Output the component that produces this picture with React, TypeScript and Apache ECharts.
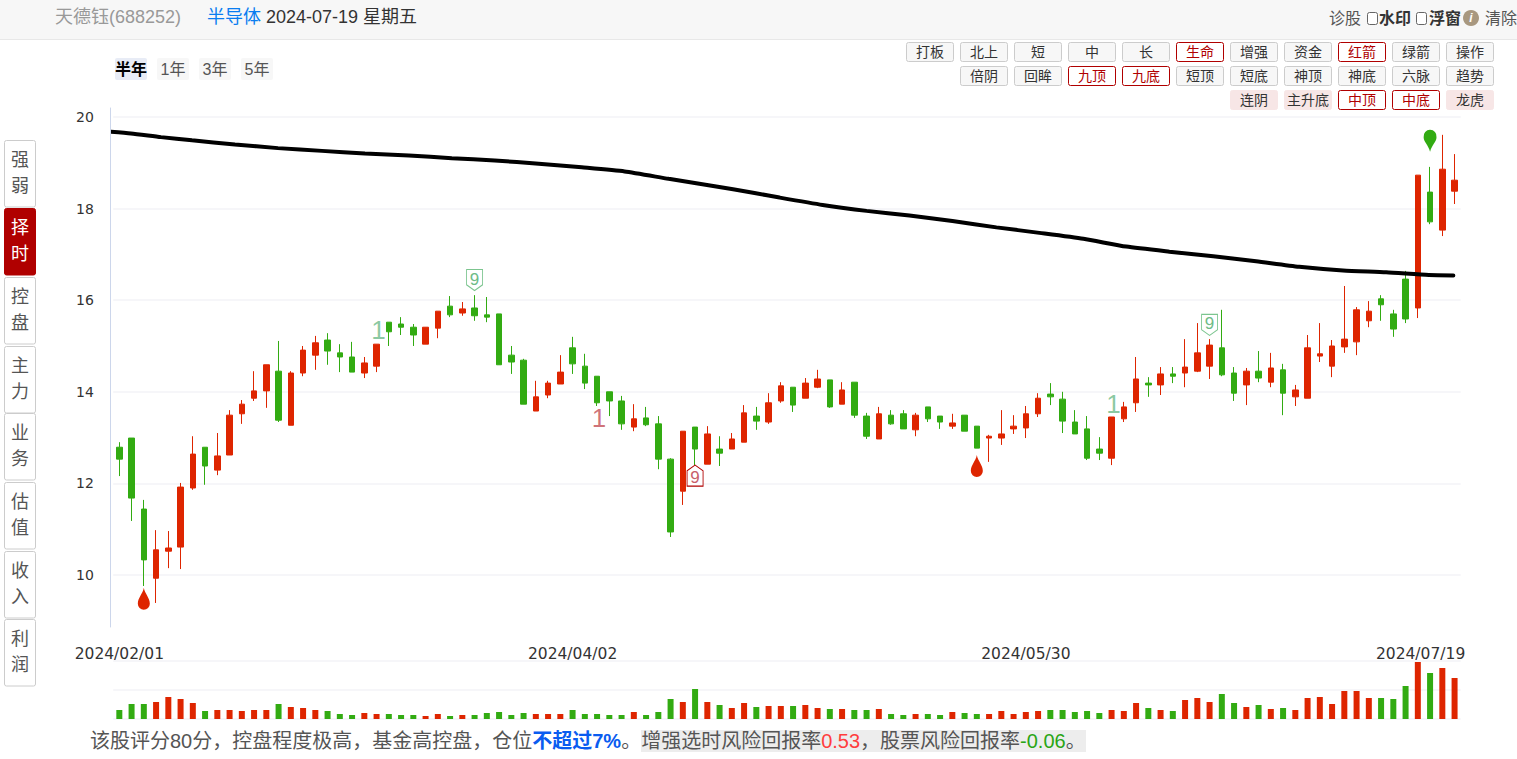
import React, { useEffect, useRef } from "react";
import * as echarts from "echarts";

const dates = [
  "2024/02/01","2024/02/02","2024/02/05","2024/02/06","2024/02/07","2024/02/08","2024/02/19","2024/02/20","2024/02/21","2024/02/22",
  "2024/02/23","2024/02/26","2024/02/27","2024/02/28","2024/02/29","2024/03/01","2024/03/04","2024/03/05","2024/03/06","2024/03/07",
  "2024/03/08","2024/03/11","2024/03/12","2024/03/13","2024/03/14","2024/03/15","2024/03/18","2024/03/19","2024/03/20","2024/03/21",
  "2024/03/22","2024/03/25","2024/03/26","2024/03/27","2024/03/28","2024/03/29","2024/04/01","2024/04/02","2024/04/03","2024/04/08",
  "2024/04/09","2024/04/10","2024/04/11","2024/04/12","2024/04/15","2024/04/16","2024/04/17","2024/04/18","2024/04/19","2024/04/22",
  "2024/04/23","2024/04/24","2024/04/25","2024/04/26","2024/04/29","2024/04/30","2024/05/06","2024/05/07","2024/05/08","2024/05/09",
  "2024/05/10","2024/05/13","2024/05/14","2024/05/15","2024/05/16","2024/05/17","2024/05/20","2024/05/21","2024/05/22","2024/05/23",
  "2024/05/24","2024/05/27","2024/05/28","2024/05/29","2024/05/30","2024/05/31","2024/06/03","2024/06/04","2024/06/05","2024/06/06",
  "2024/06/07","2024/06/11","2024/06/12","2024/06/13","2024/06/14","2024/06/17","2024/06/18","2024/06/19","2024/06/20","2024/06/21",
  "2024/06/24","2024/06/25","2024/06/26","2024/06/27","2024/06/28","2024/07/01","2024/07/02","2024/07/03","2024/07/04","2024/07/05",
  "2024/07/08","2024/07/09","2024/07/10","2024/07/11","2024/07/12","2024/07/15","2024/07/16","2024/07/17","2024/07/18","2024/07/19",
];

const opens = [
  12.79,12.99,11.44,9.93,10.52,10.61,11.90,12.79,12.29,12.62,13.52,13.86,14.02,14.45,13.27,14.41,14.80,15.13,14.85,14.76,
  14.41,14.56,15.52,15.48,15.41,15.04,15.39,15.87,15.72,15.83,15.68,15.70,14.80,14.69,13.58,13.93,14.17,14.96,14.56,14.34,
  14.00,13.80,13.23,13.43,13.30,12.53,11.83,13.23,12.42,12.75,12.75,12.90,13.47,13.34,13.80,14.10,13.86,14.10,14.26,13.73,
  14.21,13.47,12.97,13.49,13.52,13.17,13.67,13.47,13.25,13.49,13.25,12.99,12.99,13.19,13.21,13.52,13.95,13.84,13.34,13.19,
  12.75,12.55,13.41,13.76,14.19,14.15,14.39,14.41,14.45,14.56,14.96,14.41,14.15,14.45,14.21,14.48,13.89,13.86,14.78,14.56,
  14.98,15.09,15.55,16.03,15.70,16.46,15.83,18.36,17.53,18.38,
];
const closes = [
  12.53,11.68,10.33,10.55,10.59,11.92,12.64,12.38,12.60,13.49,13.73,14.02,14.59,13.38,14.41,14.91,15.07,14.89,14.76,14.43,
  14.63,15.04,15.31,15.41,15.24,15.41,15.76,15.68,15.81,15.66,15.63,14.59,14.65,13.73,13.89,14.19,14.43,14.61,14.19,13.76,
  13.80,13.30,13.41,13.28,12.53,10.94,13.14,12.75,13.08,12.66,12.97,13.54,13.36,13.76,14.13,13.71,14.19,14.28,13.67,14.04,
  13.49,13.03,13.52,13.30,13.19,13.49,13.41,13.34,13.32,13.14,12.77,13.03,13.08,13.25,13.52,13.86,13.89,13.36,13.08,12.55,
  12.66,13.45,13.67,14.28,14.15,14.39,14.34,14.54,14.85,15.02,14.37,13.97,14.45,14.30,14.52,13.97,14.04,14.96,14.83,15.00,
  15.15,15.79,15.76,15.90,15.37,15.59,18.73,17.71,18.86,18.62,
];
const lows = [
  12.16,11.18,9.76,9.39,10.15,10.13,11.86,11.97,12.18,12.62,13.30,13.80,13.65,13.34,13.27,14.34,14.48,14.59,14.43,14.43,
  14.30,14.43,15.00,15.24,15.00,15.04,15.17,15.63,15.66,15.55,15.52,14.59,14.39,13.73,13.58,13.86,14.17,14.39,14.06,13.69,
  13.47,13.17,13.14,13.25,12.31,10.83,11.53,12.40,12.42,12.38,12.75,12.90,13.17,13.30,13.76,13.56,13.86,14.08,13.65,13.73,
  13.43,12.97,12.97,13.28,13.19,13.03,13.34,13.19,13.19,13.14,12.77,12.47,12.84,13.08,12.99,13.45,13.71,13.10,13.08,12.51,
  12.51,12.40,13.34,13.56,13.89,13.93,14.19,14.10,14.43,14.28,14.34,13.80,13.71,14.21,14.10,13.49,13.69,13.86,14.65,14.32,
  14.85,14.80,15.41,15.55,15.20,15.50,15.61,17.66,17.40,18.10,
];
const highs = [
  12.90,12.99,11.64,10.98,10.96,12.01,13.03,12.79,13.10,13.60,13.82,14.45,14.59,15.11,14.45,15.00,15.22,15.28,15.04,15.09,
  14.76,15.04,15.52,15.63,15.48,15.41,15.76,16.09,15.96,16.11,16.07,15.70,15.00,14.72,14.24,14.24,14.80,15.20,14.83,14.34,
  14.00,13.91,13.73,13.67,13.47,12.55,13.14,13.23,13.25,13.03,13.10,13.71,13.67,13.97,14.21,14.10,14.30,14.48,14.26,14.21,
  14.21,13.54,13.67,13.60,13.60,13.54,13.67,13.47,13.52,13.49,13.25,13.06,13.60,13.49,13.69,13.97,14.19,14.00,13.60,13.47,
  13.01,13.45,13.78,14.76,14.32,14.54,14.54,15.15,15.50,15.15,15.79,14.54,14.52,14.89,14.85,14.61,14.15,15.24,15.50,15.13,
  16.31,15.85,15.98,16.11,15.79,16.64,18.73,18.91,19.61,19.19,
];
const volumes = [
  9,15,15,17,22,20,16,8,9,9,8,9,9,15,12,11,9,8,5,4,
  6,5,5,4,4,3,5,3,4,4,6,7,4,6,5,5,5,9,5,5,
  4,4,7,4,7,20,17,30,17,14,11,16,12,13,13,13,14,11,10,10,
  9,9,10,5,4,5,5,4,7,6,5,5,8,5,7,8,9,9,7,8,
  6,9,8,16,11,9,8,19,21,17,25,16,12,14,10,11,9,21,22,15,
  28,28,21,21,20,33,57,46,51,41,
];

// the long moving average at these candle positions
const maPositions = [
  -0.84,0.95,3.4,5.93,9.44,12.95,16.54,20.05,23.64,27.14,30.65,34.24,37.75,41.25,44.84,48.35,51.85,
  53.9,57.41,61,64.5,68.01,71.6,75.11,78.7,82.2,85.72,89.3,92.8,96.32,99.9,103.42,106.9,108.9,
];
const maValues = [
  19.68,19.64,19.56,19.49,19.40,19.32,19.26,19.20,19.16,19.10,19.05,18.98,18.90,18.81,18.65,18.50,18.34,
  18.24,18.08,17.95,17.85,17.73,17.59,17.47,17.34,17.17,17.06,16.96,16.85,16.73,16.65,16.61,16.55,16.54,
];

const priceTicks = [10, 12, 14, 16, 18, 20];
const labelledDates = [0, 37, 74, 109];

const redDrops = [[2, 9.48], [70, 12.38]];
const greenPins = [[107, 19.48]];
const greenNines = [[29, 16.44], [89, 15.46]];
const redNines = [[47, 12.17]];
const greenOnes = [[21, 15.36], [81, 13.73]];
const redOnes = [[39, 13.43]];

const row1Buttons = ["打板","北上","短","中","长","生命","增强","资金","红箭","绿箭","操作"];
const row2Buttons = ["倍阴","回眸","九顶","九底","短顶","短底","神顶","神底","六脉","趋势"];
const row3Buttons = ["连阴","主升底","中顶","中底","龙虎"];
const activeButtons = ["生命","红箭","九顶","九底","中顶","中底"];
const pinkButtons = ["连阴","主升底","龙虎"];
const periodTabs = ["半年","1年","3年","5年"];
const sideTabs = ["强弱","择时","控盘","主力","业务","估值","收入","利润"];
const sideTabTops = [140, 208, 277, 346, 413, 482, 551, 619];

const RED = "#de2500";
const GREEN = "#32ab12";
const DARK_RED = "#b00000";
const FONT = "'Liberation Sans','Noto Sans CJK SC',sans-serif";
const AXIS_FONT = "'DejaVu Sans',sans-serif";

const DROP = "path://M6 0C7 6 12 10 12 16A6 6 0 0 1 0 16C0 10 5 6 6 0Z";
const PIN = "path://M7 0A7 7 0 0 1 14 8C14 13 9 16 7 24C5 16 0 13 0 8A7 7 0 0 1 7 0Z";
const SHIELD = "path://M0 0H16V16L8 22L0 16Z";
const HOUSE = "path://M0 6L8 0L16 6V22H0Z";

function label(text: string, x: number, y: number, fontSize: number, fill: string, extra: any = {}) {
  return {
    type: "text",
    x,
    y,
    silent: true,
    style: { text, fontSize, fill, fontFamily: FONT, verticalAlign: "middle", align: "left", ...extra },
  };
}

function button(text: string, x: number, y: number) {
  const active = activeButtons.includes(text);
  const pink = pinkButtons.includes(text);
  return [
    {
      type: "rect",
      silent: true,
      shape: { x: x + 0.5, y: y + 0.5, width: 47, height: 19, r: 2 },
      style: {
        fill: active ? "#ffffff" : pink ? "#f7e6e6" : "#f7f7f7",
        stroke: active ? DARK_RED : pink ? "#f7e6e6" : "#cccccc",
        lineWidth: 1,
      },
    },
    label(text, x + 24, y + 10, 14, active ? DARK_RED : "#333333", { align: "center" }),
  ];
}

function buildGraphics() {
  const out: any[] = [];
  out.push({ type: "rect", silent: true, shape: { x: -2, y: -2, width: 1521, height: 41.5 }, style: { fill: "#f7f7f7", stroke: "#e8e8e8", lineWidth: 1 } });
  out.push(label("天德钰(688252)", 55, 17, 18, "#999999"));
  out.push(label("半导体", 207, 17, 18, "#0a7df0"));
  out.push(label("2024-07-19 星期五", 266, 17, 18, "#333333"));
  out.push(label("诊股", 1329, 18, 16, "#555555"));
  [1367, 1416].forEach((x) =>
    out.push({ type: "rect", silent: true, shape: { x: x + 0.5, y: 12.5, width: 10, height: 12, r: 2 }, style: { fill: "#ffffff", stroke: "#666666", lineWidth: 1 } })
  );
  out.push(label("水印", 1379, 18, 16, "#333333", { fontWeight: "bold" }));
  out.push(label("浮窗", 1429, 18, 16, "#333333", { fontWeight: "bold" }));
  out.push({ type: "circle", silent: true, shape: { cx: 1471, cy: 18, r: 8 }, style: { fill: "#a89880" } });
  out.push(label("i", 1471, 18, 12, "#ffffff", { align: "center", fontStyle: "italic", fontWeight: "bold" }));
  out.push(label("清除", 1485, 18, 16, "#555555"));

  row1Buttons.forEach((t, i) => out.push(...button(t, 906 + i * 54, 42)));
  row2Buttons.forEach((t, i) => out.push(...button(t, 960 + i * 54, 66)));
  row3Buttons.forEach((t, i) => out.push(...button(t, 1230 + i * 54, 90)));

  periodTabs.forEach((t, i) => {
    const x = 115 + i * 42;
    out.push({ type: "rect", silent: true, shape: { x, y: 58, width: 32, height: 22, r: 2 }, style: { fill: i === 0 ? "#e8ecf6" : "#f7f7f7" } });
    out.push(label(t, x + 16, 69, 16, i === 0 ? "#000000" : "#555555", { align: "center", fontWeight: i === 0 ? "bold" : "normal" }));
  });

  sideTabs.forEach((t, i) => {
    const top = sideTabTops[i];
    const on = i === 1;
    out.push({
      type: "rect",
      silent: true,
      shape: { x: 4.5, y: top + 0.5, width: 31, height: 66.5, r: 2 },
      style: { fill: on ? DARK_RED : "#ffffff", stroke: on ? DARK_RED : "#cccccc", lineWidth: 1 },
    });
    out.push(label(t[0], 20, top + 20, 18, on ? "#ffffff" : "#555555", { align: "center" }));
    out.push(label(t[1], 20, top + 46, 18, on ? "#ffffff" : "#555555", { align: "center" }));
  });

  out.push({ type: "rect", silent: true, shape: { x: 641, y: 730, width: 445, height: 22 }, style: { fill: "#ededed" } });
  const base = { fontSize: 20, fontFamily: FONT, fill: "#555555" };
  out.push({
    type: "text",
    x: 90,
    y: 741,
    silent: true,
    style: {
      text:
        "{b|该股评分80分，控盘程度极高，基金高控盘，仓位}{blue|不超过7%}{b|。增强选时风险回报率}{red|0.53}{b|，股票风险回报率}{green|-0.06}{b|。}",
      verticalAlign: "middle",
      fontSize: 20,
      fontFamily: FONT,
      rich: {
        b: base,
        blue: { ...base, fill: "#0a5cf0", fontWeight: "bold" },
        red: { ...base, fill: "#ff3d3d" },
        green: { ...base, fill: "#2aa515" },
      },
    },
  });
  return out;
}

const GRID_LEFT = 113.2;
const GRID_WIDTH = 1347.5;

export default function App() {
  const ref = useRef<HTMLDivElement>(null);
  useEffect(() => {
    const chart = echarts.init(ref.current!, undefined, { renderer: "svg" });
    const candleData = opens.map((o, i) => [o, closes[i], lows[i], highs[i]]);
    const volumeData = volumes.map((v, i) => ({
      value: v,
      itemStyle: { color: closes[i] >= opens[i] ? RED : GREEN },
    }));
    const splitLine = { show: true, lineStyle: { color: "#f3f3f7", width: 1.5 } };
    chart.setOption({
      animation: false,
      backgroundColor: "#ffffff",
      graphic: buildGraphics(),
      grid: [
        { left: GRID_LEFT, width: GRID_WIDTH, top: 108, height: 519 },
        { left: GRID_LEFT, width: GRID_WIDTH, top: 661, height: 58 },
      ],
      xAxis: [
        {
          type: "category",
          gridIndex: 0,
          data: dates,
          axisLine: { show: false },
          axisTick: { show: false },
          axisLabel: {
            interval: (i: number) => labelledDates.includes(i),
            margin: 19,
            fontSize: 15.5,
            color: "#333333",
            fontFamily: AXIS_FONT,
            hideOverlap: false,
            formatter: (v: string, i: number) => (i === 109 ? `{last|${v}}` : v),
            rich: {
              last: { fontSize: 15.5, color: "#333333", fontFamily: AXIS_FONT, padding: [0, 68, 0, 0] },
            },
          },
        },
        {
          type: "category",
          gridIndex: 1,
          data: dates,
          axisLine: { show: false },
          axisTick: { show: false },
          axisLabel: { show: false },
        },
        { type: "value", gridIndex: 0, min: -0.5, max: 109.5, show: false, splitLine: { show: false } },
      ],
      yAxis: [
        {
          type: "value",
          gridIndex: 0,
          min: 8.865,
          max: 20.196,
          offset: 3.4,
          axisLine: { show: true, onZero: false, lineStyle: { color: "#ccd6eb", width: 1 } },
          axisTick: { show: false, customValues: priceTicks },
          axisLabel: { customValues: priceTicks, margin: 16, fontSize: 14, color: "#333333", fontFamily: AXIS_FONT, padding: [0, 0, 3, 0] },
          splitLine,
        },
        {
          type: "value",
          gridIndex: 1,
          min: 0,
          max: 58,
          interval: 29,
          axisLine: { show: false },
          axisTick: { show: false },
          axisLabel: { show: false },
          splitLine,
        },
      ],
      series: [
        {
          name: "均线",
          type: "line",
          xAxisIndex: 2,
          yAxisIndex: 0,
          clip: false,
          silent: true,
          symbol: "none",
          smooth: 0.2,
          data: maPositions.map((p, i) => [p, maValues[i]]),
          lineStyle: { color: "#000000", width: 4, cap: "round" },
        },
        {
          name: "K线",
          type: "candlestick",
          xAxisIndex: 0,
          yAxisIndex: 0,
          barWidth: 6,
          silent: true,
          data: candleData,
          itemStyle: { color: RED, color0: GREEN, borderColor: RED, borderColor0: GREEN, borderWidth: 1 },
        },
        {
          name: "成交量",
          type: "bar",
          xAxisIndex: 1,
          yAxisIndex: 1,
          barWidth: 6,
          silent: true,
          data: volumeData,
        },
        {
          name: "红滴",
          type: "scatter",
          xAxisIndex: 0,
          yAxisIndex: 0,
          silent: true,
          symbol: DROP,
          symbolSize: [12, 22],
          itemStyle: { color: RED, opacity: 1 },
          data: redDrops,
        },
        {
          name: "绿针",
          type: "scatter",
          xAxisIndex: 0,
          yAxisIndex: 0,
          silent: true,
          symbol: PIN,
          symbolSize: [13, 22],
          itemStyle: { color: GREEN, opacity: 1 },
          data: greenPins,
        },
        {
          name: "绿九",
          type: "scatter",
          xAxisIndex: 0,
          yAxisIndex: 0,
          silent: true,
          symbol: SHIELD,
          symbolSize: [16, 21],
          itemStyle: { color: "#ffffff", borderColor: "#7cc58f", borderWidth: 1, opacity: 1 },
          label: { show: true, position: "inside", formatter: "9", fontSize: 17, color: "#6fbb87", fontFamily: FONT, offset: [0, -1] },
          data: greenNines,
        },
        {
          name: "红九",
          type: "scatter",
          xAxisIndex: 0,
          yAxisIndex: 0,
          silent: true,
          symbol: HOUSE,
          symbolSize: [16, 21],
          itemStyle: { color: "#ffffff", borderColor: DARK_RED, borderWidth: 1, opacity: 1 },
          label: { show: true, position: "inside", formatter: "9", fontSize: 17, color: "#c8606a", fontFamily: FONT, offset: [0, 2] },
          data: redNines,
        },
        {
          name: "绿一",
          type: "scatter",
          xAxisIndex: 0,
          yAxisIndex: 0,
          silent: true,
          symbolSize: 1,
          symbolOffset: [2, 0],
          itemStyle: { color: "rgba(0,0,0,0)" },
          label: { show: true, position: "inside", formatter: "1", fontSize: 26, color: "rgba(60,165,100,0.75)", fontFamily: FONT },
          data: greenOnes,
        },
        {
          name: "红一",
          type: "scatter",
          xAxisIndex: 0,
          yAxisIndex: 0,
          silent: true,
          symbolSize: 1,
          symbolOffset: [2, 0],
          itemStyle: { color: "rgba(0,0,0,0)" },
          label: { show: true, position: "inside", formatter: "1", fontSize: 26, color: "rgba(176,20,30,0.75)", fontFamily: FONT },
          data: redOnes,
        },
      ],
    });
    return () => chart.dispose();
  }, []);
  return <div ref={ref} style={{ position: "absolute", left: 0, top: 0, width: 1517, height: 759 }} />;
}
